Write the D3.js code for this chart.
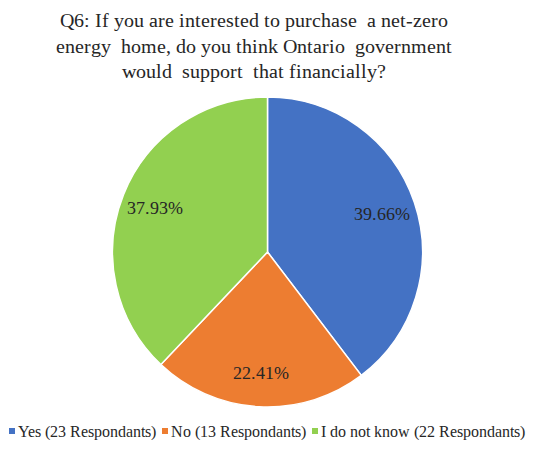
<!DOCTYPE html>
<html><head><meta charset="utf-8">
<script src="https://cdn.jsdelivr.net/npm/d3@7"></script>
<style>
@font-face { font-family: "ChartSerif"; src: local("Liberation Serif"), local("LiberationSerif"), local("Liberation Serif Regular"), local("LiberationSerif-Regular"); }
</style>
</head><body style="margin:0">
<svg id="c" width="550" height="449" font-family="ChartSerif, 'Liberation Serif', serif"></svg>
<script>
const categories = ["Yes (23 Respondants)", "No (13 Respondants)", "I do not know (22 Respondants)"];
const counts = [23, 13, 22];
const percentLabels = ["39.66%", "22.41%", "37.93%"];
const colors = ["#4472C4", "#ED7D31", "#92D050"];
const titleLines = ["Q6: If you are interested to purchase  a net-zero", "energy  home, do you think Ontario  government", "would  support  that financially?"];

const svg = d3.select("#c");
const serif = function(){ this.style.setProperty("font-family", '"ChartSerif", "Liberation Serif", "Times New Roman", Times, serif', "important"); };

function draw(){
svg.selectAll("*").remove();
svg.selectAll("text.title").data(titleLines).join("text").attr("class","title")
  .attr("x", 254).attr("y", (d,i)=>27 + i*25.5)
  .attr("text-anchor","middle").attr("font-size",20)
  .attr("fill","#262626").attr("xml:space","preserve").text(d=>d).each(serif);

const cx = 267.5, cy = 252, r = 155;
const pie = d3.pie().sort(null).value(d=>d);
const arcs = pie(counts);
const arc = d3.arc().innerRadius(0).outerRadius(r);
const labelArc = d3.arc().innerRadius(r*0.78).outerRadius(r*0.78);
svg.selectAll("path.slice").data(arcs).join("path").attr("class","slice")
  .attr("transform",`translate(${cx},${cy})`)
  .attr("d",arc).attr("fill",(d,i)=>colors[i]).attr("stroke","#fff").attr("stroke-width",1.5);

svg.selectAll("text.pct").data(arcs).join("text").attr("class","pct")
  .attr("x",d=>cx+labelArc.centroid(d)[0]).attr("y",d=>cy+labelArc.centroid(d)[1])
  .attr("text-anchor","middle").attr("dy","0.35em")
  .attr("font-size",18).attr("fill","#262626")
  .text((d,i)=>percentLabels[i]).each(serif);

const legText = svg.selectAll("text.leg").data(categories).join("text").attr("class","leg")
  .attr("y",431).attr("dy","0.35em").attr("font-size",16)
  .attr("fill","#262626").text(d=>d).each(serif);
const widths = legText.nodes().map(n=>n.getComputedTextLength());
const left = 9, right = 512, keyW = 9;
const gap = Math.max(6, (right - left - d3.sum(widths) - keyW*categories.length)/(categories.length-1));
const legX = [];
let x = left;
widths.forEach(w=>{ legX.push(x); x += keyW + w + gap; });
legText.attr("x",(d,i)=>legX[i]+keyW);
svg.selectAll("rect.key").data(categories).join("rect").attr("class","key")
  .attr("x",(d,i)=>legX[i]).attr("y",428).attr("width",6).attr("height",6).attr("fill",(d,i)=>colors[i]);
}
draw();
if (document.fonts && document.fonts.ready) document.fonts.ready.then(draw);
</script>
</body></html>
